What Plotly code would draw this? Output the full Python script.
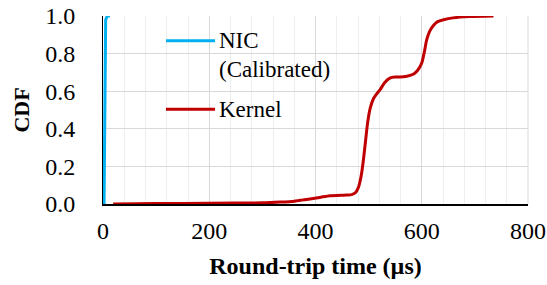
import plotly.graph_objects as go

# Data
nic_x = [2, 3, 4, 5, 8, 13]
nic_y = [0.0, 0.3, 0.7, 0.98, 1.0, 1.0]

kernel_x = [19, 100, 200, 300, 333, 360, 371, 390, 410, 427, 459, 468, 475, 481, 486, 490, 494, 498, 503, 509,
            515, 522, 530, 540, 550, 559, 572, 584, 592, 600, 605, 609, 615, 622, 630, 641, 659, 690, 735]
kernel_y = [0.0, 0.002, 0.004, 0.006, 0.01, 0.015, 0.02, 0.027, 0.036, 0.044, 0.048, 0.05, 0.06, 0.09, 0.15,
            0.23, 0.33, 0.43, 0.51, 0.56, 0.585, 0.61, 0.645, 0.67, 0.675, 0.675, 0.68, 0.69, 0.71, 0.75,
            0.81, 0.87, 0.92, 0.95, 0.97, 0.98, 0.99, 0.997, 1.0]

x_ticks = [0, 200, 400, 600, 800]
y_ticks = [0.0, 0.2, 0.4, 0.6, 0.8, 1.0]

font_family = "Liberation Serif, Times New Roman, serif"
blue = "#00b0f0"
red = "#c00000"

fig = go.Figure()
fig.add_trace(go.Scatter(x=kernel_x, y=kernel_y, mode="lines", name="Kernel",
                         line=dict(color=red, width=3, shape="spline", smoothing=0.6)))
fig.add_trace(go.Scatter(x=nic_x, y=nic_y, mode="lines", name="NIC (Calibrated)",
                         line=dict(color=blue, width=3)))

fig.update_layout(
    width=547, height=285,
    margin=dict(l=103, r=19, t=16, b=81),
    paper_bgcolor="white", plot_bgcolor="white",
    showlegend=False,
    font=dict(family=font_family, size=24, color="black"),
)
fig.update_xaxes(
    range=[0, 800], tickvals=x_ticks, ticktext=[str(v) for v in x_ticks],
    tickfont=dict(family=font_family, size=24),
    showgrid=True, gridcolor="#d9d9d9", gridwidth=1,
    minor=dict(dtick=40, showgrid=True, gridcolor="#eeeeee", gridwidth=1),
    showline=True, linecolor="black", linewidth=1.5,
    zeroline=False, ticks="", ticklabelstandoff=4, automargin=False,
    title=dict(text="<b>Round-trip time (µs)</b>", font=dict(family=font_family, size=24), standoff=15),
)
fig.update_yaxes(
    range=[0, 1.0], tickvals=y_ticks, ticktext=[f"{v:.1f}" for v in y_ticks],
    tickfont=dict(family=font_family, size=24),
    showgrid=True, gridcolor="#d9d9d9", gridwidth=1,
    showline=True, linecolor="black", linewidth=1,
    zeroline=False, ticks="", ticklabelstandoff=22, automargin=False,
    title=dict(text="<b>CDF</b>", font=dict(family=font_family, size=22), standoff=9),
)
# right border
fig.add_shape(type="line", xref="paper", yref="paper", x0=1, x1=1, y0=0, y1=1,
              line=dict(color="#d9d9d9", width=1))

# manual legend (positions in reference pixels relative to plot area: left 103, bottom 204, 425x188)
def px(x):
    return (x - 103) / 425

def py(y):
    return (204 - y) / 188

fig.add_shape(type="line", xref="paper", yref="paper", x0=px(166), x1=px(215),
              y0=py(40.7), y1=py(40.7), line=dict(color=blue, width=3))
fig.add_shape(type="line", xref="paper", yref="paper", x0=px(166), x1=px(215),
              y0=py(109.3), y1=py(109.3), line=dict(color=red, width=3))
for txt, yc in [("NIC", 40.5), ("(Calibrated)", 69.5), ("Kernel", 109)]:
    fig.add_annotation(xref="paper", yref="paper", x=px(217), y=py(yc),
                       text=txt, showarrow=False, xanchor="left", yanchor="middle",
                       align="left", font=dict(family=font_family, size=23))

fig.write_html("out.html", config={"displayModeBar": False},
               post_script="document.body.style.margin='0px';")
